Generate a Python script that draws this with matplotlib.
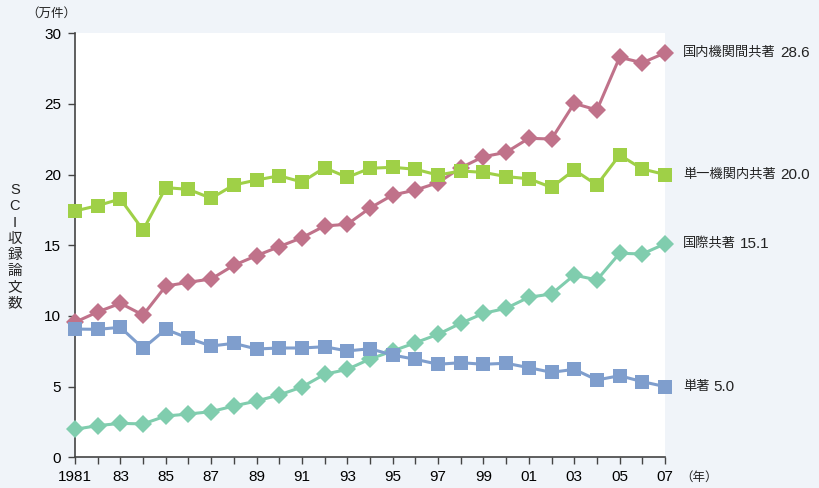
import matplotlib
matplotlib.use("Agg")
import matplotlib.pyplot as plt
from matplotlib.ticker import FixedLocator

plt.rcParams['font.family'] = ['Liberation Sans', 'Noto Sans CJK JP', 'DejaVu Sans']

years = list(range(1981, 2008))
tick_years = list(range(1981, 2008, 2))
tick_labels = ['1981', '83', '85', '87', '89', '91', '93', '95', '97', '99', '01', '03', '05', '07']

domestic_multi = [9.55, 10.28, 10.89, 10.06, 12.11, 12.38, 12.61, 13.58, 14.26, 14.90,
                  15.53, 16.36, 16.48, 17.63, 18.55, 18.90, 19.42, 20.48, 21.26, 21.57,
                  22.56, 22.51, 25.03, 24.56, 28.29, 27.90, 28.6]
single_inst = [17.42, 17.80, 18.27, 16.07, 19.07, 18.95, 18.32, 19.26, 19.61, 19.91,
               19.47, 20.48, 19.80, 20.44, 20.51, 20.37, 19.96, 20.25, 20.15, 19.85,
               19.70, 19.09, 20.32, 19.26, 21.38, 20.39, 20.0]
international = [1.98, 2.24, 2.40, 2.36, 2.92, 3.06, 3.23, 3.63, 3.98, 4.41,
                 4.97, 5.87, 6.22, 6.95, 7.52, 8.10, 8.70, 9.48, 10.18, 10.54,
                 11.32, 11.55, 12.89, 12.54, 14.43, 14.38, 15.1]
single_author = [9.07, 9.05, 9.19, 7.71, 9.05, 8.42, 7.87, 8.06, 7.66, 7.73,
                 7.73, 7.82, 7.52, 7.68, 7.23, 6.93, 6.58, 6.69, 6.58, 6.65,
                 6.34, 6.01, 6.22, 5.47, 5.77, 5.35, 5.0]

series = [
    ('国内機関間共著', domestic_multi, '#C0728A', 'D'),
    ('単一機関内共著', single_inst, '#9FD047', 's'),
    ('国際共著', international, '#80CDAE', 'D'),
    ('単著', single_author, '#7F9ECD', 's'),
]

bg = '#F0F4F9'
fig = plt.figure(figsize=(8.19, 4.88), dpi=100, facecolor=bg)
ax = fig.add_axes([75 / 819, 30.7 / 488, 590 / 819, 424.2 / 488])
ax.set_facecolor('white')

for name, vals, color, mk in series:
    ms = 9 if mk == 'D' else 9.5
    ax.plot(years, vals, color=color, lw=2.2, marker=mk, markersize=ms,
            markeredgewidth=0, clip_on=False, zorder=3)
    # series name at the line end, latest value just after it
    name_txt = ax.annotate(name, xy=(years[-1], vals[-1]),
                           xytext=(13, 0), textcoords='offset points', ha='left', va='center',
                           fontsize=9.5, color='#222222', annotation_clip=False)
    ax.annotate(f'{vals[-1]:.1f}', xy=(1, 0.5), xycoords=name_txt,
                xytext=(3, 0), textcoords='offset points', ha='left', va='center',
                fontsize=11, color='#222222', annotation_clip=False)

ax.set_xlim(1981, 2007)
ax.set_ylim(0, 30)
ax.xaxis.set_major_locator(FixedLocator(tick_years))
ax.set_xticklabels(tick_labels)
ax.xaxis.set_minor_locator(FixedLocator(years))
ax.set_yticks([0, 5, 10, 15, 20, 25, 30])

for side in ('top', 'right'):
    ax.spines[side].set_visible(False)
for side in ('left', 'bottom'):
    ax.spines[side].set_color('#444444')
    ax.spines[side].set_linewidth(1.2)

ax.tick_params(axis='x', which='both', direction='out', length=5, width=1,
               color='#444444', labelsize=11, pad=4)
ax.tick_params(axis='y', direction='out', length=5, width=1,
               color='#444444', labelsize=11, pad=5)

fig.text(51 / 819, 1 - 14 / 488, '（万件）', ha='center', va='center', fontsize=9, color='#222222')
fig.text(680 / 819, 1 - 478 / 488, '（年）', ha='left', va='center', fontsize=9, color='#222222')
fig.text(15 / 819, 1 - 247 / 488, '\n'.join('SCI収録論文数'), ha='center', va='center',
         fontsize=10.5, color='#222222', linespacing=1.2)

fig.savefig('out.png', dpi=100, facecolor=bg)
